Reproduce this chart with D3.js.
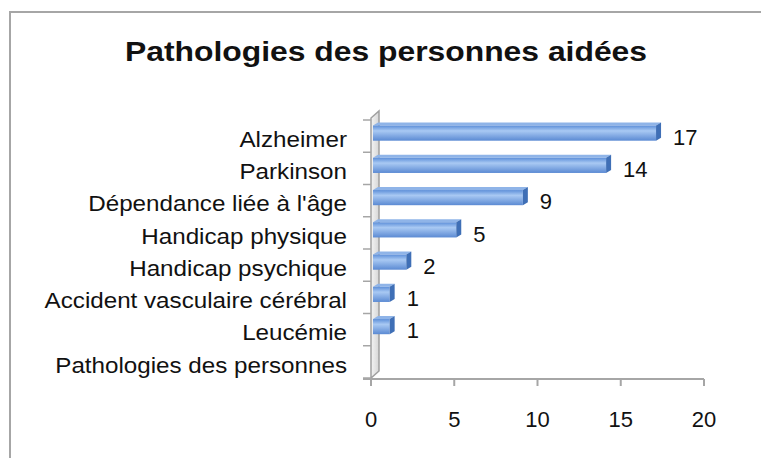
<!DOCTYPE html>
<html>
<head>
<meta charset="utf-8">
<script src="https://cdn.jsdelivr.net/npm/d3@7"></script>
<style>
    body { margin: 0; background: #fff; }
    text { font-family: "Liberation Sans", Arial, sans-serif; fill: #111; }
</style>
</head>
<body>
<svg id="chart"></svg>
<script>
// data
let categories = [
    'Alzheimer',
    'Parkinson',
    "Dépendance liée à l'âge",
    'Handicap physique',
    'Handicap psychique',
    'Accident vasculaire cérébral',
    'Leucémie',
    'Pathologies des personnes'
];
let values = [17, 14, 9, 5, 2, 1, 1, null];
let xTicks = [0, 5, 10, 15, 20];
let title = 'Pathologies des personnes aidées';

// sizes
let width = 761;
let height = 458;
let plotLeft = 371;
let plotRight = 704;
let plotTop = 120;
let plotBottom = 378;
let depthX = 8;
let depthY = 7;
let labelSize = 22;
let stretch = 1.1; // reference text is a bit wider than Liberation

let svg = d3.select('#chart')
    .attr('width', width)
    .attr('height', height);

let defs = svg.append('defs');
let grad = defs.append('linearGradient')
    .attr('id', 'barGrad')
    .attr('x1', 0).attr('y1', 0).attr('x2', 0).attr('y2', 1);
grad.append('stop').attr('offset', '0%').attr('stop-color', '#5d8fd9');
grad.append('stop').attr('offset', '35%').attr('stop-color', '#a9c9f3');
grad.append('stop').attr('offset', '100%').attr('stop-color', '#5b8ad3');

let wallGrad = defs.append('linearGradient')
    .attr('id', 'wallGrad')
    .attr('x1', 0).attr('y1', 0).attr('x2', 1).attr('y2', 0);
wallGrad.append('stop').attr('offset', '0%').attr('stop-color', '#f4f4f4');
wallGrad.append('stop').attr('offset', '100%').attr('stop-color', '#d6d6d6');

// frame
svg.append('path')
    .attr('d', `M10,${height} L10,12 L${width},12`)
    .attr('fill', 'none')
    .attr('stroke', '#a6a6a6')
    .attr('stroke-width', 2);

svg.append('g')
    .attr('transform', `translate(386, 61) scale(1.18, 1)`)
    .append('text')
    .attr('text-anchor', 'middle')
    .style('font-size', '27px')
    .style('font-weight', 'bold')
    .text(title);

// scales
let xScale = d3.scaleLinear()
    .domain([0, 20])
    .range([plotLeft, plotRight]);

let yScale = d3.scaleBand()
    .domain(categories)
    .range([plotTop, plotBottom])
    .paddingInner(0.53)
    .paddingOuter(0.265);

let step = yScale.step();

// left wall (3d)
svg.append('path')
    .attr('d', `M${plotLeft},${plotBottom} L${plotLeft},${plotTop - 2} L${plotLeft + depthX},${plotTop - 2 - depthY} L${plotLeft + depthX},${plotBottom - depthY} Z`)
    .attr('fill', 'url(#wallGrad)')
    .attr('stroke', '#a0a0a0')
    .attr('stroke-width', 1.5);

// axes
let axisColor = '#a6a6a6';
svg.append('line')
    .attr('x1', plotLeft - 8).attr('x2', xScale(20))
    .attr('y1', plotBottom + 1).attr('y2', plotBottom + 1)
    .attr('stroke', axisColor).attr('stroke-width', 2);

svg.selectAll('.xtick')
    .data(xTicks)
    .enter()
    .append('line')
    .attr('x1', d => xScale(d)).attr('x2', d => xScale(d))
    .attr('y1', plotBottom + 1).attr('y2', plotBottom + 8)
    .attr('stroke', axisColor).attr('stroke-width', 2);

svg.selectAll('.xlabel')
    .data(xTicks)
    .enter()
    .append('text')
    .attr('x', d => xScale(d))
    .attr('y', 427)
    .attr('text-anchor', 'middle')
    .style('font-size', labelSize + 'px')
    .text(d => d);

svg.selectAll('.ytick')
    .data(d3.range(categories.length + 1))
    .enter()
    .append('line')
    .attr('x1', plotLeft - 8).attr('x2', plotLeft)
    .attr('y1', i => plotTop + i * step).attr('y2', i => plotTop + i * step)
    .attr('stroke', axisColor).attr('stroke-width', 1.5);

svg.selectAll('.ylabel')
    .data(categories)
    .enter()
    .append('g')
    .attr('transform', d => `translate(347, ${yScale(d) + yScale.bandwidth() / 2 + 3}) scale(${stretch}, 1)`)
    .append('text')
    .attr('dy', '0.35em')
    .attr('text-anchor', 'end')
    .style('font-size', labelSize + 'px')
    .text(d => d);

// bars
let barData = categories.map((c, i) => ({ name: c, value: values[i] }))
    .filter(d => d.value !== null);

let side = 5;
let bars = svg.selectAll('.bar')
    .data(barData)
    .enter()
    .append('g');

// top face
bars.append('path')
    .attr('d', d => {
        let x0 = xScale(0) + 2, x1 = xScale(d.value) + 2, y = yScale(d.name) - 3;
        return `M${x0},${y} L${x0 + side},${y - 3} L${x1 + side},${y - 3} L${x1},${y} Z`;
    })
    .attr('fill', '#8fb4e8');

bars.append('rect')
    .attr('x', xScale(0) + 2)
    .attr('y', d => yScale(d.name) - 3)
    .attr('width', d => xScale(d.value) - xScale(0))
    .attr('height', yScale.bandwidth())
    .attr('fill', 'url(#barGrad)');

// right face
bars.append('path')
    .attr('d', d => {
        let x1 = xScale(d.value) + 2, y = yScale(d.name) - 3, h = yScale.bandwidth();
        return `M${x1},${y} L${x1 + side},${y - 3} L${x1 + side},${y + h - 3} L${x1},${y + h} Z`;
    })
    .attr('fill', '#3f6fb6');

bars.append('text')
    .attr('x', d => xScale(d.value) + side + 14)
    .attr('y', d => yScale(d.name) + yScale.bandwidth() / 2 + 1)
    .attr('dy', '0.35em')
    .style('font-size', labelSize + 'px')
    .text(d => d.value);
</script>
</body>
</html>
